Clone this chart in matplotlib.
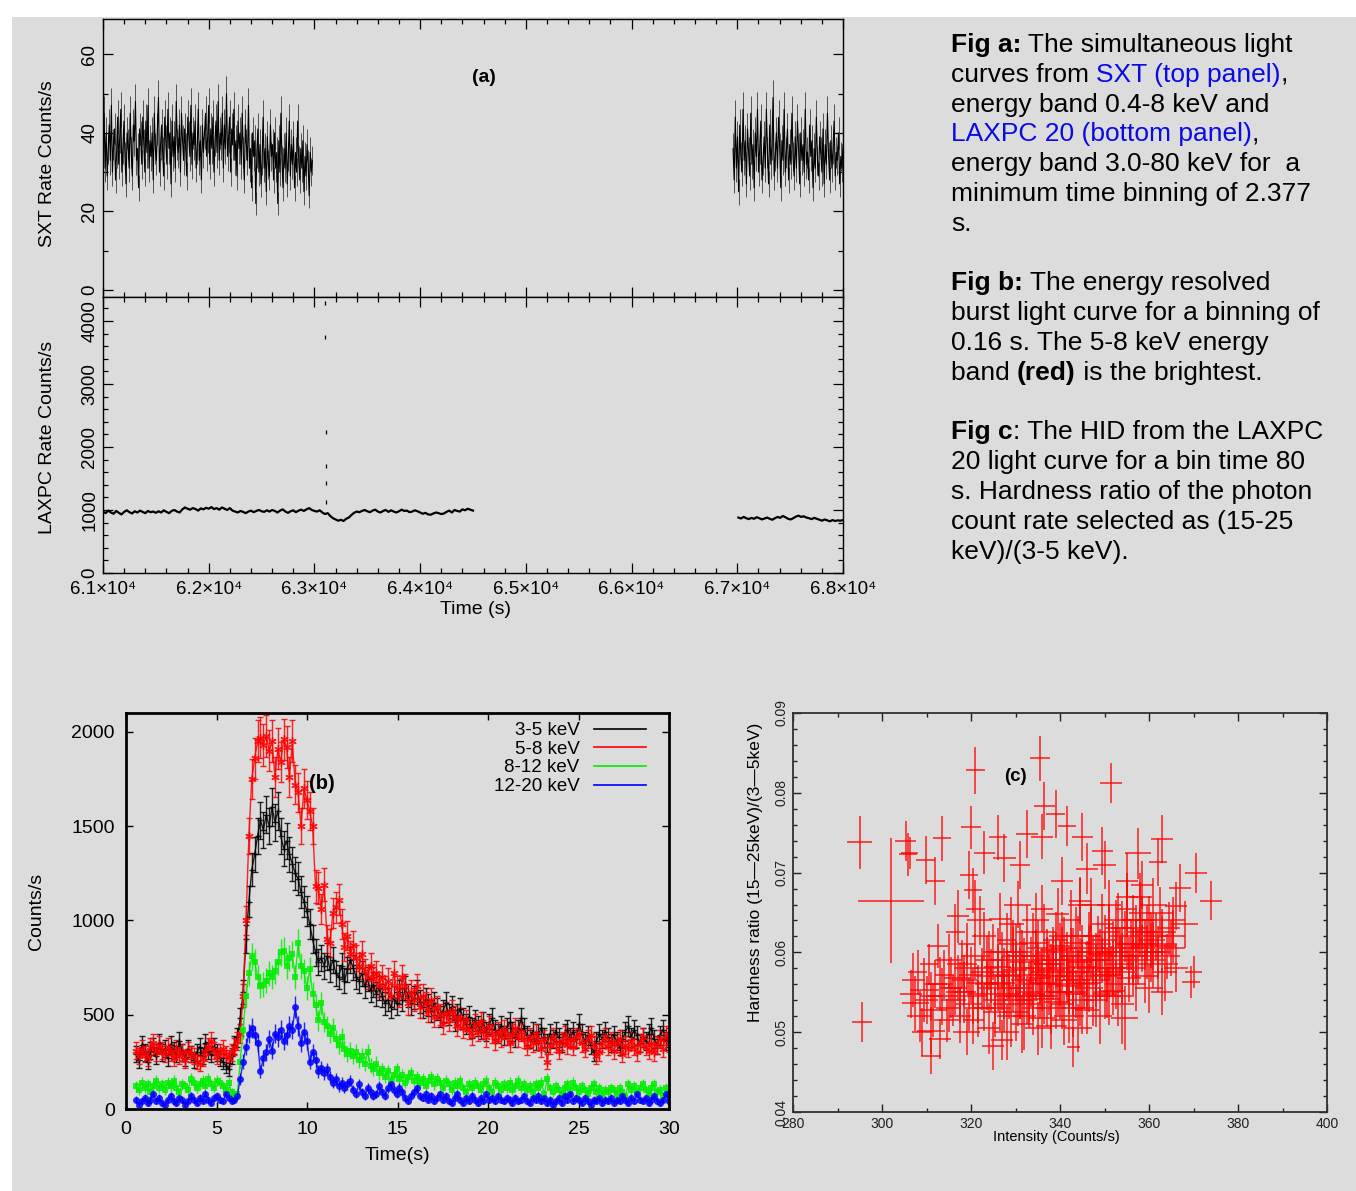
import numpy as np
import matplotlib
matplotlib.use('Agg')
import matplotlib.pyplot as plt
from matplotlib.lines import Line2D
from matplotlib.patches import Rectangle
from matplotlib.ticker import MultipleLocator

plt.rcParams['font.family'] = ['Liberation Sans', 'DejaVu Sans']

BG = '#dcdcdc'

# ---------------- panel (a): SXT and LAXPC light curves ----------------
# SXT rate (counts/s), first orbit segment 61000-62980 s
sxt_rate1 = [
    38, 45, 31, 40, 29, 36, 42, 33, 47, 30, 37, 41, 28, 35, 44, 32, 39, 46, 30, 36,
    43, 34, 27, 40, 37, 31, 45, 35, 29, 42, 38, 48, 33, 36, 26, 41, 39, 32, 44, 37,
    30, 43, 35, 47, 31, 38, 34, 40, 28, 45, 36, 33, 41, 49, 30, 37, 42, 35, 29, 44,
    38, 32, 46, 36, 40, 27, 43, 34, 39, 31, 48, 37, 35, 42, 30, 45, 38, 33, 41, 36,
    29, 44, 39, 34, 47, 32, 40, 37, 43, 31, 36, 46, 33, 38, 28, 42, 35, 40, 45, 34,
    39, 47, 32, 41, 36, 44, 30, 38, 43, 35, 48, 33, 40, 37, 45, 31, 42, 36, 50, 34,
    39, 44, 30, 41, 37, 46, 33, 38, 29, 43, 36, 40, 32, 45, 35, 28, 42, 37, 33, 47,
    31, 36, 26, 40, 34, 38, 22, 35, 41, 30, 37, 27, 33, 44, 31, 36, 25, 39, 32, 29,
    42, 34, 37, 28, 40, 31, 35, 22, 38, 30, 45, 33, 26, 36, 31, 40, 27, 34, 43, 29,
    37, 32, 39, 26, 35, 30, 43, 33, 28, 36, 31, 38, 25, 34, 29, 37, 32, 24, 35, 30, 33,
]
sxt_span1 = (61000, 62980)
# SXT rate, second segment 66960-68000 s
sxt_rate2 = [
    36, 28, 44, 31, 39, 25, 42, 34, 30, 46, 33, 38, 27, 41, 35, 29, 45, 32, 37, 26,
    40, 34, 46, 30, 36, 43, 28, 33, 39, 31, 46, 35, 27, 42, 32, 37, 49, 29, 34, 40,
    31, 44, 36, 26, 38, 33, 46, 30, 35, 41, 28, 37, 32, 45, 34, 29, 39, 31, 43, 36,
    27, 40, 33, 37, 30, 46, 32, 35, 28, 42, 34, 38, 26, 36, 31, 44, 33, 29, 39, 35,
    30, 41, 27, 37, 32, 45, 34, 28, 38, 31, 36, 43, 29, 35, 33, 40, 27, 34, 31, 37,
]
sxt_span2 = (66960, 68000)
sxt_bin = 2.377

# LAXPC 20 rate (counts/s), 61000-64500 s
laxpc_rate1 = [
    975, 950, 990, 960, 940, 985, 955, 930, 970, 995, 965, 945, 980, 960, 990, 970, 950, 985, 965, 975, 955,
    980, 960, 995, 970, 950, 985, 1000, 975, 960, 1010, 1040, 1020, 1005, 1030, 1015, 990, 1025, 1010, 1035, 1020,
    1045, 1015, 1030, 1005, 1040, 1020, 1000, 1030, 990, 975, 960, 985, 970, 950, 975, 990, 965, 985, 1000, 980,
    970, 995, 975, 1000, 985, 960, 990, 1010, 975, 955, 980, 995, 965, 990, 1005, 985, 1010, 1030, 1000, 985,
    975, 995, 960, 935, 950, 905, 870, 850, 830, 845, 825, 860, 880, 920, 955, 975, 965, 985, 1000, 980,
    965, 990, 1005, 975, 960, 985, 1000, 970, 995, 975, 960, 980, 1005, 985, 990, 965, 975, 995, 980, 960,
    940, 955, 930, 925, 945, 960, 950, 935, 945, 970, 990, 960, 1000, 985, 975, 1010, 995, 1020, 1005, 990,
]
laxpc_span1 = (61000, 64500)
# LAXPC 20 rate, 67010-68000 s
laxpc_rate2 = [
    880, 865, 890, 870, 855, 875, 860, 885, 870, 850, 865, 880, 860, 845, 870, 890, 875, 905, 885, 860,
    850, 870, 895, 910, 890, 900, 880, 870, 855, 875, 860, 845, 830, 850, 835, 820, 840, 825, 835, 830, 840,
]
laxpc_span2 = (67010, 68000)
# isolated burst bins near 63100 s
burst_pts_t = [63100, 63102, 63105, 63108, 63110, 63112]
burst_pts_rate = [4280, 3750, 2240, 1700, 1430, 1130]

# ---------------- panel (b): energy resolved burst ----------------
burst_t0 = 0.55
burst_dt = 0.16
rate_3_5 = [
    290, 260, 340, 300, 250, 310, 330, 280, 350, 300, 320, 270, 340, 310, 290, 360, 300, 270, 320, 290,
    260, 300, 330, 280, 350, 310, 290, 330, 300, 270, 250, 230, 210, 280, 340, 380, 480, 620, 900, 1100,
    1270, 1350, 1450, 1530, 1480, 1560, 1500, 1600, 1520, 1580, 1450, 1380, 1420, 1350, 1300, 1250, 1220, 1150, 1100, 1050,
    980, 900, 830, 780, 800, 760, 810, 740, 790, 720, 700, 760, 680, 740, 790, 750, 700, 680, 720, 650,
    690, 630, 660, 610, 640, 600, 560, 580, 540, 590, 560, 620, 580, 640, 600, 560, 590, 620, 570, 540,
    580, 550, 520, 560, 530, 490, 520, 560, 500, 540, 470, 500, 530, 480, 450, 490, 430, 470, 440, 420,
    460, 410, 450, 480, 420, 400, 440, 390, 430, 460, 410, 380, 420, 480, 430, 390, 370, 410, 360, 400,
    430, 380, 350, 400, 370, 410, 380, 350, 400, 420, 380, 410, 370, 450, 400, 360, 390, 340, 300, 360,
    400, 370, 410, 380, 350, 390, 360, 330, 370, 410, 440, 380, 420, 390, 350, 380, 360, 400, 430, 370,
    340, 390, 420, 360, 380,
]
rate_5_8 = [
    310, 280, 320, 290, 270, 330, 350, 300, 340, 310, 290, 330, 300, 270, 320, 280, 300, 260, 310, 290,
    280, 250, 240, 270, 300, 330, 360, 310, 280, 300, 320, 290, 270, 300, 330, 360, 400, 600, 1000, 1450,
    1750, 1860, 1950, 1970, 1930, 1980, 1900, 1950, 1760, 1910, 1840, 1960, 1920, 1760, 1950, 1720, 1680, 1500, 1700, 1640,
    1580, 1500, 1180, 1170, 1060, 1190, 900, 880, 1040, 1070, 1110, 980, 860, 920, 820, 870, 800, 760, 820, 730,
    700, 760, 690, 720, 660, 700, 640, 680, 600, 720, 640, 600, 700, 650, 560, 620, 580, 650, 540, 600,
    560, 520, 580, 490, 540, 500, 450, 510, 470, 520, 490, 440, 480, 430, 470, 420, 390, 450, 410, 460,
    420, 380, 440, 400, 360, 410, 380, 420, 390, 350, 400, 430, 380, 410, 370, 330, 380, 350, 400, 360,
    320, 370, 250, 340, 380, 350, 310, 360, 390, 340, 370, 330, 380, 400, 350, 320, 370, 390, 340, 280,
    300, 350, 380, 330, 360, 310, 350, 370, 290, 340, 320, 360, 330, 300, 350, 380, 330, 310, 350, 300,
    340, 370, 320, 390, 350,
]
rate_8_12 = [
    120, 100, 140, 110, 130, 90, 120, 150, 110, 130, 100, 140, 120, 150, 110, 90, 130, 120, 100, 160,
    140, 110, 130, 150, 120, 160, 130, 110, 150, 140, 120, 100, 140, 90, 60, 80, 250, 420, 600, 720,
    810, 780, 700, 650, 660, 680, 720, 700, 730, 780, 830, 840, 760, 800, 820, 700, 880, 760, 730, 640,
    740, 610, 550, 470, 560, 460, 440, 400, 430, 370, 340, 380, 320, 290, 310, 280, 300, 260, 280, 240,
    300, 230, 210, 240, 190, 210, 170, 200, 150, 180, 210, 160, 180, 140, 170, 190, 150, 170, 140, 160,
    120, 150, 170, 130, 160, 140, 110, 150, 130, 100, 140, 120, 150, 110, 90, 130, 110, 140, 120, 100,
    130, 150, 110, 90, 140, 120, 100, 130, 110, 140, 100, 120, 150, 110, 130, 100, 120, 90, 130, 110,
    140, 80, 160, 110, 90, 120, 100, 80, 110, 130, 100, 140, 110, 90, 120, 100, 80, 110, 130, 90,
    110, 80, 100, 90, 110, 100, 80, 110, 90, 70, 130, 100, 120, 90, 110, 130, 100, 80, 110, 130,
    90, 100, 70, 110, 90,
]
rate_12_20 = [
    50, 20, 40, 60, 30, 50, 80, 40, 60, 30, 20, 50, 70, 40, 30, 60, 50, 20, 40, 70,
    50, 30, 60, 40, 80, 50, 30, 60, 70, 50, 40, 80, 60, 40, 50, 70, 160, 250, 330, 400,
    430, 390, 350, 200, 270, 300, 370, 310, 400, 380, 420, 360, 390, 440, 420, 540, 440, 350, 410, 360,
    250, 300, 260, 200, 220, 190, 210, 170, 140, 160, 120, 140, 110, 130, 150, 100, 80, 130, 90, 70,
    110, 90, 70, 80, 120, 90, 70, 110, 130, 100, 80, 110, 90, 60, 40, 70, 90, 110, 70, 60,
    80, 50, 70, 40, 60, 80, 50, 70, 40, 30, 60, 80, 50, 30, 60, 40, 70, 50, 30, 60,
    40, 80, 50, 60, 40, 70, 50, 40, 60, 50, 30, 60, 40, 50, 70, 40, 30, 60, 50, 70,
    40, 60, 30, 50, 20, 40, 60, 30, 70, 50, 80, 40, 60, 50, 30, 60, 40, 20, 50, 40,
    60, 30, 50, 40, 60, 30, 50, 40, 70, 50, 30, 60, 40, 80, 50, 40, 60, 30, 50, 70,
    40, 30, 50, 80, 40,
]
band_labels = ['3-5 keV', '5-8 keV', '8-12 keV', '12-20 keV']

# ---------------- panel (c): hardness-intensity diagram ----------------
hid_int = [
    295.0, 295.5, 302.0, 305.3, 305.8, 306.2, 309.8, 312.0, 313.5, 320.0, 321.0, 335.5, 351.5,
    336.5, 339.0, 341.5, 345.0, 336.0, 326.0, 323.0, 332.5, 331.0, 327.5, 319.5, 320.5, 349.5,
    350.0, 357.5, 362.0, 363.0, 370.5, 374.0, 367.0, 366.0, 370.0, 369.5, 311.0, 313.0, 363.0,
    354.5, 343.0, 327.0, 325.0, 340.5, 344.5, 346.0, 355.0, 358.5, 365.5, 368.0, 361.0,
    306.5, 307.5, 308.0, 308.5, 309.5, 310.0, 310.5, 311.5, 312.0, 312.5, 313.5, 314.0, 314.5,
    315.0, 315.5, 309.0, 311.0, 307.0,
    316.0, 316.5, 317.0, 317.5, 318.0, 318.5, 319.0, 319.5, 320.0, 320.5, 321.0, 321.5, 322.0,
    322.5, 323.0, 323.5, 324.0, 324.5, 325.0, 325.5, 317.0, 319.0, 321.0, 323.0, 324.5,
    326.0, 326.5, 327.0, 327.5, 328.0, 328.5, 329.0, 329.5, 330.0, 330.5, 331.0, 331.5, 332.0,
    332.5, 333.0, 333.5, 334.0, 334.5, 335.0, 335.5, 326.5, 328.0, 330.5, 332.0, 333.5, 334.5,
    327.5, 329.5, 331.0, 335.0, 326.0, 329.0,
    336.0, 336.5, 337.0, 337.5, 338.0, 338.5, 339.0, 339.5, 340.0, 340.5, 341.0, 341.5, 342.0,
    342.5, 343.0, 343.5, 344.0, 344.5, 345.0, 345.5, 336.5, 338.0, 339.5, 341.0, 342.5, 344.0,
    337.0, 340.0, 343.0, 345.0, 338.5, 341.5, 336.0, 344.5, 340.5,
    346.0, 346.5, 347.0, 347.5, 348.0, 348.5, 349.0, 349.5, 350.0, 350.5, 351.0, 351.5, 352.0,
    352.5, 353.0, 353.5, 354.0, 354.5, 355.0, 355.5, 347.0, 349.0, 351.0, 353.0, 355.0, 348.0,
    350.0, 352.5, 346.5, 354.0,
    356.0, 356.5, 357.0, 357.5, 358.0, 358.5, 359.0, 359.5, 360.0, 360.5, 361.5, 362.0, 362.5,
    363.0, 364.0, 364.5, 365.0, 366.0, 357.0, 360.0, 363.5, 358.0, 361.0, 356.5,
    318.5, 320.5, 322.5, 324.0, 325.5, 327.0, 328.5, 330.0, 331.5, 333.0, 334.0, 335.5, 337.0,
    338.5, 340.0, 341.5, 343.0, 344.5, 346.0, 347.5, 349.0, 350.5, 352.0, 353.5, 355.0, 356.5,
    358.0, 359.5,
    316.5, 319.0, 321.5, 323.5, 326.0, 327.5, 329.5, 331.0, 332.5, 334.5, 336.0, 337.5, 339.0,
    340.5, 342.0, 343.5, 345.0, 346.5, 348.0, 349.5, 351.0, 352.5, 354.0, 355.5, 357.0, 358.5,
    360.5, 362.0,
    328.0, 330.0, 332.0, 334.0, 336.0, 338.0, 340.0, 342.0, 344.0, 346.0, 348.0, 350.0, 352.0,
    354.0, 331.0, 335.0, 339.0, 343.0, 347.0, 351.0, 311.0, 313.0, 315.0, 317.5, 359.0, 361.0,
    363.0, 365.5,
]
hid_ratio = [
    0.0738, 0.0513, 0.0665, 0.0740, 0.0723, 0.0725, 0.0716, 0.0690, 0.0743, 0.0757, 0.0828, 0.0843, 0.0812,
    0.0783, 0.0773, 0.0758, 0.0745, 0.0745, 0.0744, 0.0725, 0.0748, 0.0709, 0.0718, 0.0697, 0.0678, 0.0727,
    0.0710, 0.0724, 0.0713, 0.0742, 0.0700, 0.0665, 0.0681, 0.0658, 0.0575, 0.0563, 0.0470, 0.0492, 0.0551,
    0.0518, 0.0482, 0.0490, 0.0483, 0.0690, 0.0665, 0.0705, 0.0690, 0.0685, 0.0640, 0.0635, 0.0608,
    0.0548, 0.0536, 0.0575, 0.0520, 0.0553, 0.0540, 0.0585, 0.0528, 0.0560, 0.0608, 0.0545, 0.0572, 0.0515,
    0.0590, 0.0556, 0.0500, 0.0502, 0.0565,
    0.0540, 0.0625, 0.0568, 0.0520, 0.0585, 0.0550, 0.0610, 0.0535, 0.0572, 0.0515, 0.0595, 0.0548, 0.0640,
    0.0562, 0.0530, 0.0580, 0.0505, 0.0555, 0.0600, 0.0540, 0.0645, 0.0500, 0.0655, 0.0620, 0.0570,
    0.0560, 0.0530, 0.0590, 0.0548, 0.0615, 0.0570, 0.0520, 0.0555, 0.0600, 0.0540, 0.0580, 0.0510, 0.0565,
    0.0625, 0.0550, 0.0590, 0.0530, 0.0572, 0.0605, 0.0545, 0.0642, 0.0500, 0.0660, 0.0520, 0.0560, 0.0640,
    0.0575, 0.0595, 0.0545, 0.0505, 0.0600, 0.0635,
    0.0575, 0.0545, 0.0600, 0.0560, 0.0530, 0.0590, 0.0615, 0.0550, 0.0580, 0.0535, 0.0605, 0.0565, 0.0520,
    0.0595, 0.0550, 0.0620, 0.0575, 0.0540, 0.0600, 0.0560, 0.0625, 0.0508, 0.0648, 0.0515, 0.0640, 0.0505,
    0.0585, 0.0560, 0.0595, 0.0530, 0.0570, 0.0590, 0.0655, 0.0660, 0.0620,
    0.0580, 0.0555, 0.0620, 0.0590, 0.0540, 0.0610, 0.0570, 0.0635, 0.0595, 0.0550, 0.0625, 0.0580, 0.0605,
    0.0560, 0.0640, 0.0600, 0.0575, 0.0620, 0.0655, 0.0590, 0.0660, 0.0520, 0.0660, 0.0545, 0.0670, 0.0590,
    0.0615, 0.0630, 0.0605, 0.0535,
    0.0610, 0.0580, 0.0630, 0.0595, 0.0650, 0.0605, 0.0570, 0.0625, 0.0640, 0.0600, 0.0620, 0.0585, 0.0650,
    0.0610, 0.0595, 0.0630, 0.0605, 0.0580, 0.0560, 0.0555, 0.0575, 0.0670, 0.0660, 0.0640,
    0.0565, 0.0545, 0.0575, 0.0590, 0.0525, 0.0562, 0.0545, 0.0578, 0.0595, 0.0535, 0.0612, 0.0568, 0.0542,
    0.0603, 0.0550, 0.0575, 0.0530, 0.0588, 0.0562, 0.0545, 0.0598, 0.0572, 0.0552, 0.0585, 0.0610, 0.0595,
    0.0625, 0.0600,
    0.0555, 0.0580, 0.0530, 0.0560, 0.0582, 0.0535, 0.0610, 0.0555, 0.0540, 0.0595, 0.0562, 0.0585, 0.0538,
    0.0600, 0.0570, 0.0548, 0.0582, 0.0620, 0.0565, 0.0590, 0.0545, 0.0600, 0.0630, 0.0568, 0.0605, 0.0640,
    0.0615, 0.0600,
    0.0572, 0.0525, 0.0588, 0.0548, 0.0518, 0.0578, 0.0608, 0.0558, 0.0612, 0.0528, 0.0575, 0.0548, 0.0580,
    0.0595, 0.0600, 0.0580, 0.0590, 0.0565, 0.0600, 0.0600, 0.0545, 0.0560, 0.0530, 0.0550, 0.0610, 0.0590,
    0.0625, 0.0620,
]
hid_int_err = [
    2.8, 2.3, 7.5, 2.3, 2.0, 2.0, 2.2, 2.2, 2.0, 2.3, 2.2, 2.3, 2.5, 2.4, 2.2, 2.0, 2.4, 2.5, 2.0, 2.3,
    2.5, 2.3, 2.5, 2.0, 2.0, 2.4, 2.5, 3.0, 2.0, 2.5, 2.5, 2.5, 2.5, 2.5, 2.0, 2.0, 2.3, 2.5, 2.5, 3.0,
    1.5, 2.5, 2.5, 2.5, 2.5, 2.5, 2.5, 2.5, 2.5, 3.0, 5.0,
    2.5, 3.0, 2.2, 2.8, 3.2, 2.5, 2.0, 3.0, 2.6, 2.4, 3.5, 2.2, 2.8, 3.0, 2.5, 2.2, 3.2, 2.6,
    2.8, 2.2, 3.0, 2.5, 3.4, 2.6, 2.0, 3.0, 2.7, 2.4, 3.2, 2.5, 2.8, 3.5, 2.3, 2.9, 2.6, 3.1, 2.4, 2.8,
    2.5, 3.0, 2.2, 2.7, 3.3,
    3.0, 2.5, 2.8, 3.4, 2.2, 2.9, 3.1, 2.6, 2.4, 3.3, 2.7, 2.5, 3.0, 2.3, 2.8, 3.5, 2.6, 2.9, 2.4, 3.2,
    2.5, 2.8, 3.0, 2.6, 2.2, 3.1, 2.7, 2.5, 3.4, 2.9, 2.3, 2.8,
    2.6, 3.0, 2.4, 2.8, 3.3, 2.5, 2.9, 3.1, 2.2, 2.7, 3.0, 2.6, 3.4, 2.3, 2.8, 3.2, 2.5, 2.9, 2.4, 3.0,
    2.7, 3.5, 2.6, 2.8, 2.2, 3.1, 2.9, 2.4, 3.0, 2.6, 2.8, 3.3, 2.5, 2.7, 3.0,
    2.8, 3.2, 2.5, 3.0, 2.6, 2.9, 3.4, 2.4, 2.7, 3.1, 2.5, 3.0, 2.8, 2.3, 3.2, 2.6, 2.9, 3.5, 2.4, 2.8,
    3.0, 2.6, 2.7, 3.1, 2.5, 3.0, 2.8, 2.4, 3.3, 2.6,
    3.0, 2.6, 2.8, 3.3, 2.5, 2.9, 3.1, 2.4, 2.7, 3.0, 2.8, 4.5, 2.6, 3.2, 2.9, 2.5, 3.0, 2.7, 2.4, 3.1,
    2.8, 2.6, 3.0, 2.5,
    2.8, 3.0, 2.5, 3.2, 2.7, 2.9, 3.1, 2.6, 3.0, 2.8, 3.3, 2.5, 2.9, 3.0, 2.7, 3.1, 2.6, 2.8, 3.2, 2.5,
    3.0, 2.9, 2.7, 3.1, 2.6, 3.0, 2.8, 3.2,
    2.6, 2.9, 3.1, 2.7, 3.0, 2.5, 3.2, 2.8, 2.6, 3.0, 2.9, 3.3, 2.7, 2.5, 3.1, 2.8, 3.0, 2.6, 2.9, 3.2,
    2.7, 3.0, 2.5, 2.8, 3.1, 2.6, 3.0, 2.9,
    3.0, 2.7, 3.2, 2.6, 2.9, 3.1, 2.5, 2.8, 3.0, 2.7, 3.3, 2.6, 2.9, 3.0, 2.8, 3.1, 2.6, 2.9, 3.2, 2.7,
    2.5, 3.0, 2.8, 3.1, 2.6, 2.9, 3.0, 2.7,
]
# hardness ratio errors in units of 1e-3
hid_ratio_err_milli = [
    3.3, 2.5, 7.8, 2.5, 2.7, 2.0, 3.0, 3.0, 2.8, 2.7, 3.0, 2.8, 2.5, 3.0, 3.0, 2.5, 3.0, 2.8, 2.8, 2.7,
    3.0, 3.0, 3.0, 3.0, 2.8, 3.0, 3.0, 3.2, 3.0, 3.0, 2.5, 2.5, 3.0, 3.0, 2.0, 2.0, 2.3, 2.5, 3.0, 4.0,
    2.5, 2.5, 3.0, 3.0, 3.0, 3.2, 3.5, 3.0, 3.0, 3.0, 3.0,
    3.0, 3.5, 2.8, 3.2, 4.0, 3.0, 2.6, 3.4, 3.0, 2.8, 3.6, 3.1, 2.7, 3.3, 3.8, 3.0, 2.9, 3.4,
    3.2, 3.6, 2.9, 3.4, 3.0, 3.8, 2.7, 3.3, 3.5, 3.0, 2.8, 3.6, 3.1, 3.4, 2.9, 4.0, 3.2, 2.8, 3.5, 3.0,
    3.3, 2.9, 3.6, 3.1, 3.4,
    3.3, 2.9, 3.6, 3.1, 3.4, 2.8, 3.9, 3.0, 3.5, 3.2, 2.7, 3.6, 3.0, 3.4, 3.8, 2.9, 3.3, 3.1, 3.6, 2.8,
    3.2, 3.5, 3.0, 4.2, 2.9, 3.4, 3.1, 3.7, 2.8, 3.3, 3.0, 3.5,
    3.1, 3.5, 2.9, 3.8, 3.2, 3.0, 3.6, 2.8, 3.4, 3.1, 3.9, 2.9, 3.3, 3.5, 3.0, 3.7, 2.8, 3.2, 3.4, 3.0,
    3.6, 2.9, 3.3, 3.1, 3.8, 3.0, 3.4, 2.7, 3.5, 3.2, 3.0, 3.6, 2.9, 3.3, 3.1,
    3.4, 3.0, 3.7, 2.9, 3.3, 3.5, 3.1, 3.8, 3.0, 3.2, 3.6, 2.8, 3.4, 3.1, 3.5, 3.0, 3.9, 3.2, 3.6, 2.9,
    3.3, 3.5, 3.1, 3.7, 3.0, 3.4, 3.2, 3.6, 2.9, 5.0,
    3.2, 3.6, 3.0, 3.4, 3.8, 2.9, 3.3, 3.5, 3.1, 3.7, 3.0, 3.4, 3.2, 3.6, 2.8, 3.3, 3.5, 3.0, 3.4, 3.1,
    3.6, 2.9, 3.3, 3.2,
    3.2, 3.5, 3.0, 3.7, 3.1, 3.4, 2.9, 3.6, 3.3, 3.0, 3.8, 3.2, 3.5, 2.9, 3.4, 3.1, 3.6, 3.0, 3.3, 3.7,
    3.1, 3.4, 3.0, 3.5, 3.2, 3.6, 2.9, 3.3,
    3.4, 3.0, 3.6, 3.2, 2.9, 3.5, 3.1, 3.8, 3.0, 3.3, 3.6, 2.9, 3.4, 3.2, 3.7, 3.0, 3.5, 3.1, 3.3, 2.8,
    3.6, 3.2, 3.4, 3.0, 3.7, 3.1, 3.5, 3.3,
    3.1, 3.6, 3.0, 3.4, 3.8, 3.2, 2.9, 3.5, 3.3, 3.0, 3.6, 3.1, 3.4, 2.9, 3.7, 3.2, 3.5, 3.0, 3.3, 3.6,
    3.1, 3.4, 3.0, 3.8, 3.2, 3.5, 2.9, 3.3,
]

# ---------------- figure ----------------
W, H = 1356, 1191
fig = plt.figure(figsize=(W / 100, H / 100), dpi=100)
fig.patch.set_facecolor('white')
fig.add_artist(Rectangle((12 / W, 0), 1, 1 - 17 / H, transform=fig.transFigure,
                         facecolor=BG, edgecolor='none', zorder=-10))


def px_axes(left, top, right, bottom):
    return fig.add_axes([left / W, 1 - bottom / H, (right - left) / W, (bottom - top) / H])


def rot_yticks(ax):
    for lab in ax.get_yticklabels():
        lab.set_rotation(90)
        lab.set_va('center')


# ---- panel a, top: SXT ----
ax_s = px_axes(103, 19, 843, 297)
ax_l = px_axes(103, 297, 843, 573)
for ax in (ax_s, ax_l):
    ax.set_facecolor(BG)
    ax.set_xlim(61000, 68000)
    ax.xaxis.set_major_locator(MultipleLocator(1000))
    ax.xaxis.set_minor_locator(MultipleLocator(200))
    ax.tick_params(which='both', direction='in', top=True, right=True, width=0.9, labelsize=13.5)
    ax.tick_params(which='major', length=7)
    ax.tick_params(which='minor', length=3.5)
    for sp in ax.spines.values():
        sp.set_linewidth(1.0)

for rates, span in ((sxt_rate1, sxt_span1), (sxt_rate2, sxt_span2)):
    r = np.array(rates, dtype=float)
    t = np.linspace(span[0], span[1], len(r))
    ax_s.errorbar(t, r, yerr=np.sqrt(r / sxt_bin), color='k', lw=0.8,
                  ecolor='#505050', elinewidth=0.7)
ax_s.set_ylim(-1.8, 69)
ax_s.yaxis.set_major_locator(MultipleLocator(20))
ax_s.yaxis.set_minor_locator(MultipleLocator(10))
ax_s.tick_params(axis='x', labelbottom=False)
ax_s.set_ylabel('SXT Rate Counts/s', fontsize=14)
ax_s.yaxis.set_label_coords(-0.063, 0.48)
ax_s.text(64604, 54, '(a)', fontsize=14, fontweight='bold', ha='center', va='center')
rot_yticks(ax_s)

# ---- panel a, bottom: LAXPC ----
for rates, span in ((laxpc_rate1, laxpc_span1), (laxpc_rate2, laxpc_span2)):
    t = np.linspace(span[0], span[1], len(rates))
    ax_l.plot(t, rates, color='k', lw=1.6)
ax_l.plot(burst_pts_t, burst_pts_rate, ls='none', marker='|', ms=3, color='k', mew=0.9)
ax_l.set_ylim(0, 4380)
ax_l.yaxis.set_major_locator(MultipleLocator(1000))
ax_l.yaxis.set_minor_locator(MultipleLocator(200))
ticks = np.arange(61000, 68001, 1000)
ax_l.set_xticks(ticks, ['%.1f\u00d710\u2074' % (v / 1e4) for v in ticks])
ax_l.tick_params(axis='x', pad=6)
ax_l.set_ylabel('LAXPC Rate Counts/s', fontsize=14)
ax_l.yaxis.set_label_coords(-0.063, 0.49)
ax_l.set_xlabel('Time (s)', fontsize=14)
ax_l.xaxis.set_label_coords(0.503, -0.1)
rot_yticks(ax_l)

# ---- panel b ----
ax_b = px_axes(126, 713, 669, 1109)
ax_b.set_facecolor(BG)
styles = [
    dict(color='black', marker='+', ms=4, mew=1.0),
    dict(color='red', marker=(6, 2, 0), ms=6, mew=1.0),
    dict(color='#00ee00', marker='s', ms=5, mew=0),
    dict(color='blue', marker='o', ms=5, mew=0),
]
series = [rate_3_5, rate_5_8, rate_8_12, rate_12_20]
for rates, st in zip(series, styles):
    r = np.array(rates, dtype=float)
    t = burst_t0 + burst_dt * np.arange(len(r))
    err = np.sqrt(r / burst_dt)
    ax_b.errorbar(t, r, yerr=err, lw=1.0, elinewidth=1.0, capsize=2.5, capthick=1.0,
                  alpha=0.85, **st)
ax_b.set_xlim(0, 30)
ax_b.set_ylim(0, 2100)
ax_b.xaxis.set_major_locator(MultipleLocator(5))
ax_b.yaxis.set_major_locator(MultipleLocator(500))
ax_b.tick_params(direction='in', top=True, right=True, length=5, width=1.0, labelsize=14)
ax_b.tick_params(axis='x', pad=9)
ax_b.tick_params(axis='y', pad=8)
for sp in ax_b.spines.values():
    sp.set_linewidth(2.0)
ax_b.set_ylabel('Counts/s', fontsize=14)
ax_b.yaxis.set_label_coords(-0.15, 0.5)
ax_b.set_xlabel('Time(s)', fontsize=14)
ax_b.xaxis.set_label_coords(0.499, -0.095)
ax_b.text(10.8, 1728, '(b)', fontsize=14.5, fontweight='bold', ha='center', va='center')
handles = [Line2D([], [], color=st['color'], lw=1.2) for st in styles]
ax_b.legend(handles, band_labels, loc='upper right', bbox_to_anchor=(0.958, 0.977),
            frameon=False, markerfirst=False, fontsize=13.5, handlelength=2.8,
            handletextpad=0.75, labelspacing=0.08, borderpad=0, borderaxespad=0)

# ---- panel c ----
ax_c = px_axes(793, 713, 1327, 1112)
ax_c.set_facecolor(BG)
ax_c.errorbar(hid_int, hid_ratio, xerr=hid_int_err,
              yerr=np.array(hid_ratio_err_milli) * 1e-3,
              fmt='none', ecolor='red', elinewidth=1.2, alpha=0.8)
ax_c.set_xlim(280, 400)
ax_c.set_ylim(0.04, 0.09)
ax_c.xaxis.set_major_locator(MultipleLocator(20))
ax_c.xaxis.set_minor_locator(MultipleLocator(10))
ax_c.yaxis.set_major_locator(MultipleLocator(0.01))
ax_c.yaxis.set_minor_locator(MultipleLocator(0.002))
ax_c.tick_params(which='both', direction='in', top=True, right=True, width=1.0,
                 labelsize=10, colors='#202020')
ax_c.tick_params(which='major', length=6)
ax_c.tick_params(which='minor', length=3)
ax_c.yaxis.set_major_formatter(plt.FuncFormatter(lambda v, p: '%.2f' % v))
for sp in ax_c.spines.values():
    sp.set_linewidth(1.3)
    sp.set_color('#303030')
ax_c.set_xlabel('Intensity (Counts/s)', fontsize=10.5)
ax_c.xaxis.set_label_coords(0.494, -0.045)
ax_c.set_ylabel('Hardness ratio (15\u201425keV)/(3\u20145keV)', fontsize=12.5)
ax_c.yaxis.set_label_coords(-0.056, 0.60)
ax_c.text(329.9, 0.0820, '(c)', fontsize=13.5, fontweight='bold', ha='center', va='center')
rot_yticks(ax_c)

# ---------------- caption text ----------------
BLUE = '#0a0ae8'
caption = [
    (0, [('Fig a:', 'k', 'bold'), (' The simultaneous light', 'k', 'normal')]),
    (1, [('curves from ', 'k', 'normal'), ('SXT (top panel)', BLUE, 'normal'), (',', 'k', 'normal')]),
    (2, [('energy band 0.4-8 keV and', 'k', 'normal')]),
    (3, [('LAXPC 20 (bottom panel)', BLUE, 'normal'), (',', 'k', 'normal')]),
    (4, [('energy band 3.0-80 keV for  a', 'k', 'normal')]),
    (5, [('minimum time binning of 2.377', 'k', 'normal')]),
    (6, [('s.', 'k', 'normal')]),
    (8, [('Fig b:', 'k', 'bold'), (' The energy resolved', 'k', 'normal')]),
    (9, [('burst light curve for a binning of', 'k', 'normal')]),
    (10, [('0.16 s. The 5-8 keV energy', 'k', 'normal')]),
    (11, [('band ', 'k', 'normal'), ('(red)', 'k', 'bold'), (' is the brightest.', 'k', 'normal')]),
    (13, [('Fig c', 'k', 'bold'), (': The HID from the LAXPC', 'k', 'normal')]),
    (14, [('20 light curve for a bin time 80', 'k', 'normal')]),
    (15, [('s. Hardness ratio of the photon', 'k', 'normal')]),
    (16, [('count rate selected as (15-25', 'k', 'normal')]),
    (17, [('keV)/(3-5 keV).', 'k', 'normal')]),
]
for row, parts in caption:
    y = 1 - (52 + 29.8 * row) / H
    prev = None
    for txt, col, wt in parts:
        if prev is None:
            prev = fig.text(951 / W, y, txt, color=col, fontweight=wt, fontsize=19,
                            ha='left', va='baseline')
        else:
            prev = fig.add_artist(matplotlib.text.Annotation(
                txt, xy=(1, 0), xycoords=prev, color=col, fontweight=wt, fontsize=19,
                ha='left', va='bottom'))

fig.savefig('out.png', dpi=100, facecolor='white')
